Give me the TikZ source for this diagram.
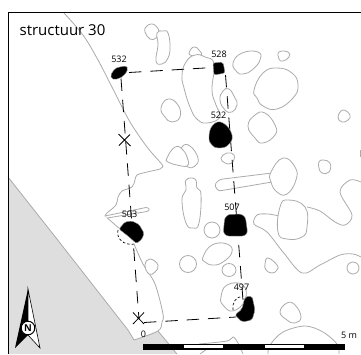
\documentclass[tikz,border=0pt]{standalone}
\usepackage{fontspec}
\setmainfont{Open Sans}
\tikzset{
  x=1pt,y=-1pt,
  pit/.style={draw=black!33,line width=0.8pt,fill=white,line join=round},
  edge/.style={draw=black!33,line width=0.8pt,line join=round},
  post/.style={draw=black!45,line width=0.4pt,fill=black},
  postline/.style={draw=black,line width=0.8pt,dash pattern=on 12.5pt off 8.8pt},
  arcdash/.style={draw=black,line width=0.7pt,dash pattern=on 2.6pt off 2pt},
  lbl/.style={font=\fontsize{9}{9}\selectfont,inner sep=0pt,text=black},
  crossmark/.style={draw=black,line width=0.8pt},
}
\newcommand{\blob}[2][pit]{\draw[#1] plot[smooth cycle,tension=0.8] coordinates {#2};}
\newcommand{\trace}[2][edge]{\draw[#1] plot[smooth,tension=0.55] coordinates {#2};}
\begin{document}
\begin{tikzpicture}
\useasboundingbox (0,0) rectangle (361,354);
% grey area
\fill[black!13] (8,177) -- (53,234) -- (128,330) -- (134,340) -- (158,331) -- (177,354) -- (8,354) -- cycle;
\draw[edge] (8,177) -- (53,234) -- (128,330) -- (134,340);
\draw[edge] (158,331) -- (177,354);
% long boundary
\trace{(64,13) (83,35) (98,60) (115,93) (130,122) (147,147) (160,162) (163,166)}
\trace{(163,166) (160,169) (147,172) (137,175) (135,180) (132,187) (122,191) (118,197) (116,205) (107,213) (105,216)}
\trace{(105,216) (120,229)}
\trace{(134,244) (143,264) (155,284) (163,314) (162,322) (158,331) (134,340)}
% finger
\draw[pit] (105,216) -- (146,207.5) .. controls (150,207.5) and (150,211) .. (147,211.5) -- (107,218);
% top shapes
\blob{(145,32) (146,27) (151,24) (156,26) (159,32) (156,38) (150,39)}
\blob{(157,33) (163,31) (168,33) (170,47) (168,58) (162,64) (156,61) (158,45)}
\blob{(190,55) (191,49) (195,47) (199,50) (201,55)}
\blob{(182,75) (186,62) (195,55) (205,57) (214,64) (212,90) (216,105) (220,117) (207,123) (197,119) (190,107) (184,88)}
\blob{(220,100) (223,91) (229,89) (235,98) (237,105) (232,112) (225,110)}
\blob{(161,108) (168,99) (178,105) (180,117) (172,122) (165,117)}
\blob{(233,63) (242,53) (258,52) (260,60) (252,70) (243,74) (237,72)}
\blob{(279,52) (288,52) (289,57) (283,61) (279,59)}
\blob{(254,90) (263,73) (277,68) (292,73) (298,85) (293,98) (277,109) (263,106) (257,98)}
\blob{(248,126) (255,115) (265,113) (275,125) (275,135) (263,143) (255,138)}
\blob{(338,117) (343,110) (350,115) (348,120) (342,122)}
\blob{(221,158) (227,153) (234,155) (232,163) (225,163)}
\blob{(182,147) (190,146) (198,158) (195,166) (188,167) (180,160)}
\blob{(167,158) (175,147) (183,150) (188,160) (187,166) (177,165) (168,162)}
\blob{(186,180) (195,179) (197,188) (201,195) (199,223) (193,228) (186,223) (182,200) (186,190)}
% bar and oval
\draw[pit] (272,173) -- (223,179) .. controls (216,180) and (213,186) .. (217,189) .. controls (218,191) and (220,191) .. (222,190.5) -- (272,182);
\blob{(271,172) (283,158) (295,167) (296,180) (287,194) (277,192) (271,182)}
\blob{(319,162) (323,160) (330,163) (329,172) (322,173) (319,168)}
\draw[edge] (360.5,150) -- (360.5,157);
% wavy boundary
\trace{(307,207) (320,211) (335,222) (345,225) (352,215) (340,192) (350,180) (361,182)}
\trace{(361,257) (353,254) (340,255) (320,265) (302,273) (283,252) (267,232) (254,224) (257,215) (268,214) (279,216)}
\blob{(280,207) (288,200) (305,207) (307,227) (302,237) (287,239) (278,232)}
\draw[pit] (353,268) circle[radius=6];
\blob{(265,264) (268,258) (277,265) (277,270) (272,273) (266,270)}
\draw[pit] (212,230) circle[radius=8];
\blob{(203,257) (212,245) (227,244) (232,252) (223,262) (213,265) (205,262)}
\draw[pit] (188,264) circle[radius=8.5];
\draw[pit] (229,270) ellipse[x radius=7,y radius=6.5];
\blob{(145,265) (150,259) (158,265) (155,272) (149,274)}
\blob{(221,297) (227,285) (243,285) (245,300) (233,311) (223,305)}
\blob{(280,312) (287,303) (295,305) (301,317) (295,323) (287,320)}
% bottom curves
\trace{(268,354) (270,345) (283,332) (305,326) (323,332) (337,344) (339,354)}
\trace{(200,354) (207,349)}
\trace{(199,344) (227,341) (233,337) (238,343) (243,354)}
% post holes
\coordinate (a1) at (129,72.5); \coordinate (a2) at (213,67.5);
\coordinate (b1) at (121,78.5); \coordinate (b2) at (139,319);
\coordinate (d1) at (225.5,75); \coordinate (d2) at (243,300);
\coordinate (e1) at (144,322.5); \coordinate (e2) at (236,317);
\draw[postline] (a1) -- (a2);
\draw[postline] (b1) -- (b2);
\draw[postline] (d1) -- (d2);
\draw[postline] (e1) -- (e2);
\draw[crossmark] (118.5,134) -- (130.5,146) (130,134.5) -- (119,145.5);
\draw[crossmark] (133,324) -- (144,312.5) (133,312.5) -- (144,324);
\blob[post]{(111,77) (114,70) (120,67) (127,67) (125,74) (117,79)}
\draw[post,rounded corners=2pt] (213,63) -- (223,62) -- (225,73) -- (214,75) -- cycle;
\blob[post]{(209,137) (213,125) (223,123) (232,135) (228,145) (219,148) (212,145)}
\draw[post,rounded corners=6pt] (225,214.5) -- (245,214) -- (248,236) -- (223,236) -- cycle;
\draw[post,rounded corners=1.5pt] (119,229) -- (125,222) -- (132,221) -- (139,224.5) -- (144,233) -- (142,239) -- (136.5,243.5) -- (128,236) -- cycle;
\draw[post,rounded corners=2pt] (245,297) -- (252,296) -- (255,310) -- (252,320) -- (242,322) -- (235,315) -- (242,309) -- cycle;
\draw[arcdash] (118,230) .. controls (116,238) and (123,246) .. (135,244);
\draw[arcdash] (233,310) .. controls (232,302) and (236,297) .. (243,296);
% labels
\node[font=\fontsize{15}{15}\selectfont,inner sep=0pt,text=black] (title) at (62.5,30) {structuur 30};
\node[lbl] (l532) at (119,59) {532};
\node[lbl] (l528) at (219,54) {528};
\node[lbl] (l522) at (218.5,115) {522};
\node[lbl] (l503) at (129.5,214) {503};
\node[lbl] (l507) at (232,207.5) {507};
\node[lbl] (l497) at (241.5,287) {497};
\node[lbl] (l0) at (143.5,334) {0};
\node[lbl] (l5) at (349,335) {5 m};
% scale bar
\fill[black] (143,344) rectangle (345,349.5);
\fill[white] (184,345.3) rectangle (223,348.2);
\fill[white] (264.5,345.3) rectangle (303.5,348.2);
% north arrow
\fill[black] (28,289) -- (15,348) -- (28,335) -- cycle;
\draw[black,line width=0.6pt,fill=white,line join=miter] (28,289) -- (40,348) -- (28,335) -- cycle;
\draw[black,line width=1pt,fill=white] (28,328) circle[radius=6.8];
\node[font=\bfseries\fontsize{9.5}{10}\selectfont,inner sep=0pt] (north) at (28,328) {N};
% frame
\draw[black,line width=1pt] (8,354) -- (8,12) -- (361,12);
\end{tikzpicture}
\end{document}
